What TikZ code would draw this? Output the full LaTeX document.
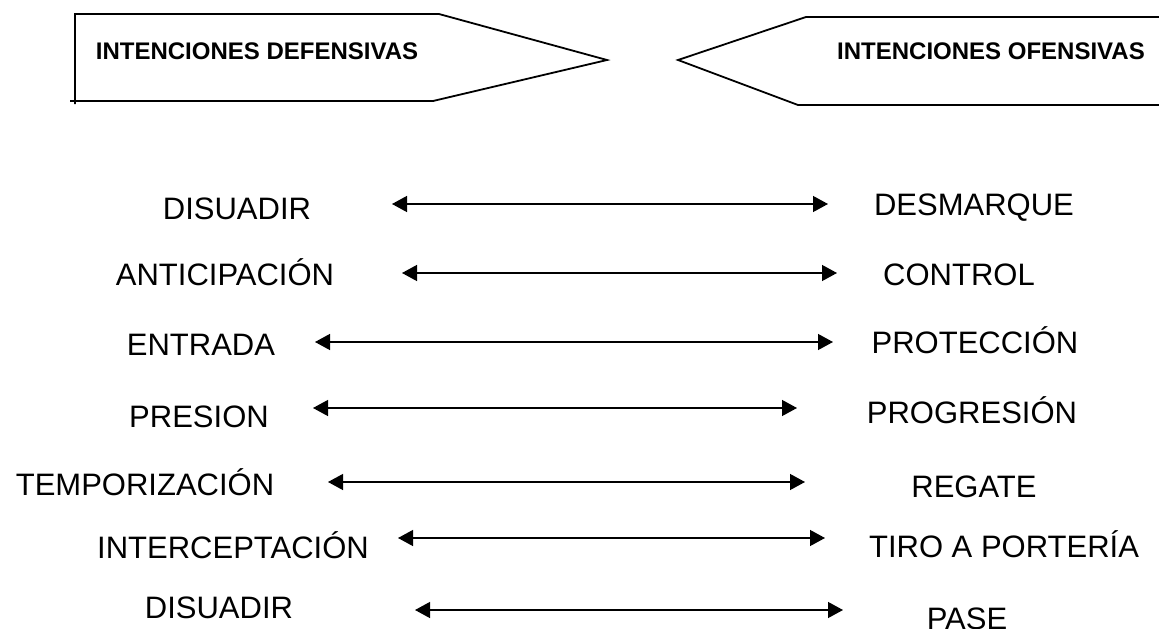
\documentclass[tikz,border=0pt]{standalone}
\usepackage{fontspec}
\setmainfont{Liberation Sans}
\usetikzlibrary{arrows.meta}
\begin{document}
\begin{tikzpicture}[x=1pt,y=-1pt,
  outline/.style={line width=1.8pt, line join=miter},
  head/.style={font=\fontsize{24}{28}\selectfont\bfseries, inner sep=0pt, anchor=base},
  term/.style={font=\fontsize{31}{36}\selectfont, inner sep=0pt, anchor=base},
  link/.style={line width=1.3pt, {Triangle[length=15pt,width=16pt]}-{Triangle[length=15pt,width=16pt]}}]
\useasboundingbox (0,0) rectangle (1159,629);

% header arrows
\draw[outline] (75,104) -- (75,14) -- (439,14) -- (607,60) -- (433,101) -- (70,101);
\draw[outline] (1165,17) -- (806,17) -- (678,60) -- (798,105) -- (1165,105);
\node[head] (def) at (257,59) {INTENCIONES DEFENSIVAS};
\node[head] (ofe) at (991,59) {INTENCIONES OFENSIVAS};

% defensive terms
\node[term] (l1) at (237,219) {DISUADIR};
\node[term] (l2) at (225,285) {ANTICIPACIÓN};
\node[term] (l3) at (201,355) {ENTRADA};
\node[term] (l4) at (199,427) {PRESION};
\node[term] (l5) at (145,495) {TEMPORIZACIÓN};
\node[term] (l6) at (233,558) {INTERCEPTACIÓN};
\node[term] (l7) at (219,618) {DISUADIR};

% offensive terms
\node[term] (r1) at (974,215) {DESMARQUE};
\node[term] (r2) at (959,285) {CONTROL};
\node[term] (r3) at (975,353) {PROTECCIÓN};
\node[term] (r4) at (972,423) {PROGRESIÓN};
\node[term] (r5) at (974,497) {REGATE};
\node[term] (r6) at (1004,557) {TIRO A PORTERÍA};
\node[term] (r7) at (967,629) {PASE};

% arrow end points
\coordinate (a1) at (392,204); \coordinate (b1) at (828,204);
\coordinate (a2) at (402,273); \coordinate (b2) at (837,273);
\coordinate (a3) at (315,342); \coordinate (b3) at (833,342);
\coordinate (a4) at (313,408); \coordinate (b4) at (797,408);
\coordinate (a5) at (328,482); \coordinate (b5) at (805,482);
\coordinate (a6) at (398,538); \coordinate (b6) at (825,538);
\coordinate (a7) at (415,610); \coordinate (b7) at (843,610);

\foreach \i in {1,...,7}
  \draw[link] (a\i) -- (b\i);
\end{tikzpicture}
\end{document}
